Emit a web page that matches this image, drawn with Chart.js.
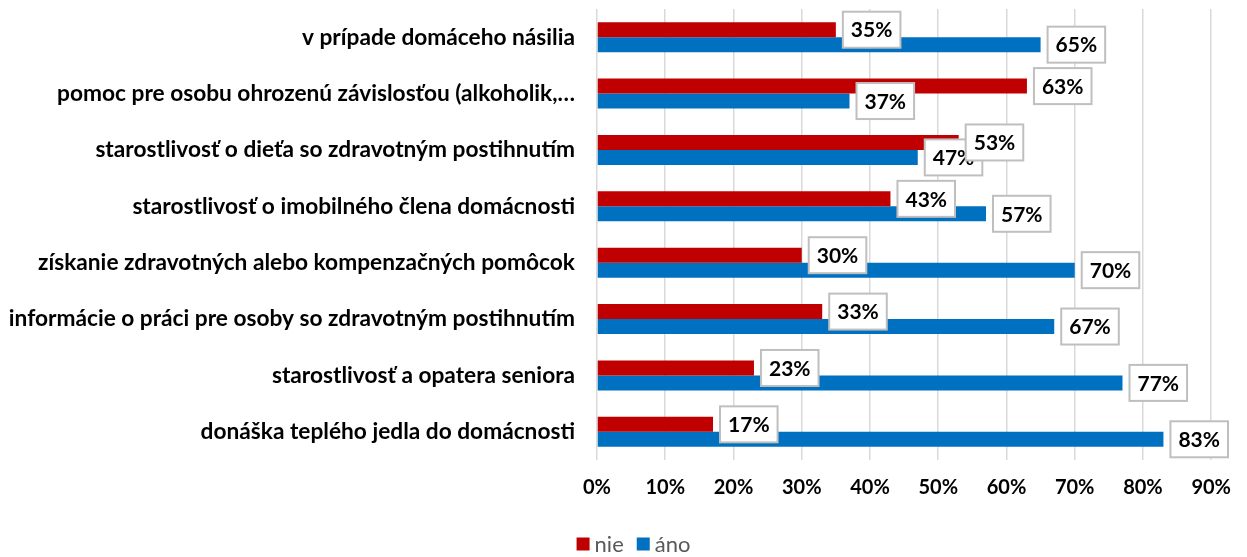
<!DOCTYPE html>
<html>
<head>
<meta charset="utf-8">
<script src="https://cdn.jsdelivr.net/npm/chart.js@4/dist/chart.umd.min.js"></script>
<style>
  html, body { margin: 0; padding: 0; background: #fff; }
  #wrap { width: 1247px; height: 557px; }
</style>
</head>
<body>
<div id="wrap"><canvas id="chart"></canvas></div>
<script>
// data
const categories = [
  'v prípade domáceho násilia',
  'pomoc pre osobu ohrozenú závislosťou (alkoholik,…',
  'starostlivosť o dieťa so zdravotným postihnutím',
  'starostlivosť o imobilného člena domácnosti',
  'získanie zdravotných alebo kompenzačných pomôcok',
  'informácie o práci pre osoby so zdravotným postihnutím',
  'starostlivosť a opatera seniora',
  'donáška teplého jedla do domácnosti'
];
const nie = [35, 63, 53, 43, 30, 33, 23, 17];
const ano = [65, 37, 47, 57, 70, 67, 77, 83];
const xTicks = [0, 10, 20, 30, 40, 50, 60, 70, 80, 90];

const FONT = 'Lato, "Open Sans", sans-serif';

// boxed value labels, blue first so the red ones sit on top
const boxLabels = {
  id: 'boxLabels',
  afterDatasetsDraw(chart) {
    const ctx = chart.ctx;
    ctx.save();
    ctx.font = 'bold 21px ' + FONT;
    ctx.textBaseline = 'middle';
    ctx.textAlign = 'left';
    for (let d = chart.data.datasets.length - 1; d >= 0; d--) {
      const meta = chart.getDatasetMeta(d);
      meta.data.forEach((bar, i) => {
        const txt = chart.data.datasets[d].data[i] + '%';
        const w = ctx.measureText(txt).width + 16;
        const h = 36;
        const x = bar.x + 7;
        const y = bar.y - h / 2;
        ctx.fillStyle = '#fff';
        ctx.fillRect(x, y, w, h);
        ctx.strokeStyle = '#bfbfbf';
        ctx.lineWidth = 2;
        ctx.strokeRect(x, y, w, h);
        ctx.fillStyle = '#000';
        ctx.fillText(txt, x + 8, bar.y + 1);
      });
    }
    ctx.restore();
  }
};

// small legend under the axis, centred on the canvas
const bottomLegend = {
  id: 'bottomLegend',
  afterDraw(chart) {
    const ctx = chart.ctx;
    const sets = chart.data.datasets;
    ctx.save();
    ctx.font = '22px ' + FONT;
    ctx.textBaseline = 'middle';
    const box = 13, gap = 5, space = 13;
    const widths = sets.map(s => box + gap + ctx.measureText(s.label).width);
    const total = widths.reduce((a, b) => a + b, 0) + space * (sets.length - 1);
    let x = chart.width / 2 - total / 2 + 10;
    const y = 545;
    sets.forEach((s, i) => {
      ctx.fillStyle = s.backgroundColor;
      ctx.fillRect(x, y - box / 2 - 1, box, box);
      ctx.fillStyle = '#595959';
      ctx.fillText(s.label, x + box + gap, y);
      x += widths[i] + space;
    });
    ctx.restore();
  }
};

new Chart(document.getElementById('chart'), {
  type: 'bar',
  data: {
    labels: categories,
    datasets: [
      { label: 'nie', data: nie, backgroundColor: '#C00000' },
      { label: 'áno', data: ano, backgroundColor: '#0070C0' }
    ]
  },
  options: {
    indexAxis: 'y',
    responsive: true,
    maintainAspectRatio: false,
    animation: false,
    categoryPercentage: 0.53,
    barPercentage: 1,
    layout: { padding: { top: 9, right: 33, bottom: 0 } },
    scales: {
      x: {
        min: 0,
        max: 90,
        afterBuildTicks(scale) { scale.ticks = xTicks.map(v => ({ value: v })); },
        grid: { color: '#d9d9d9', lineWidth: 1.5, drawTicks: false },
        border: { display: false },
        ticks: {
          padding: 16,
          color: '#000',
          font: { family: FONT, size: 20, weight: 'bold' },
          callback: v => v + '%'
        },
        afterFit(scale) { scale.height = 97; }
      },
      y: {
        grid: { display: false, drawTicks: false },
        border: { display: false },
        ticks: {
          padding: 22,
          color: '#000',
          font: { family: FONT, size: 22.7, weight: 'bold' }
        },
        afterFit(scale) {
          scale.width = 597;
          scale.paddingTop = 0;
          scale.paddingBottom = 0;
        }
      }
    },
    plugins: {
      legend: { display: false },
      tooltip: { enabled: false }
    }
  },
  plugins: [boxLabels, bottomLegend]
});
</script>
</body>
</html>
